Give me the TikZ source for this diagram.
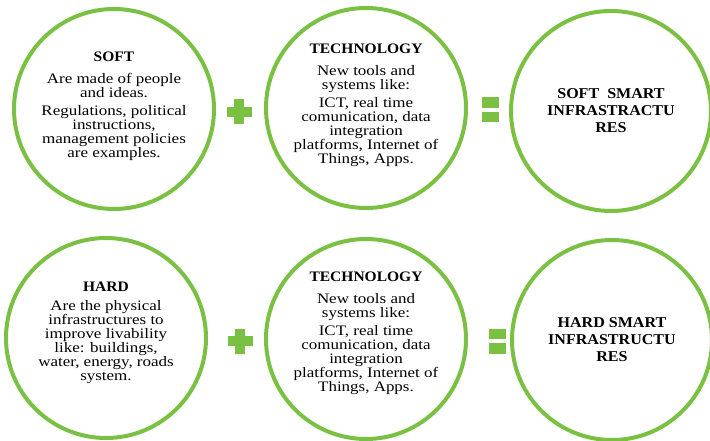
\documentclass[tikz,border=0pt]{standalone}
\usepackage{fontspec}
\setmainfont{Liberation Serif}[FakeStretch=1.07]
\newfontfamily\bodyfont{Liberation Serif}[FakeStretch=1.17]
\usepackage{tikz}
\definecolor{ringgreen}{RGB}{122,193,67}
\tikzset{
  ring/.style={circle, draw=ringgreen, line width=4pt, minimum size=200pt, inner sep=0pt},
  txt/.style={align=center, font=\bodyfont\fontsize{14.5}{14}\selectfont},
  res/.style={align=center, font=\fontsize{15}{17}\selectfont\bfseries},
  plussign/.pic={
    \fill[ringgreen] (-12.5,-5) rectangle (12.5,5);
    \fill[ringgreen] (-5,-12.5) rectangle (5,12.5);
  },
  equalsign/.pic={
    \fill[ringgreen] (-8.5,-12.5) rectangle (8.5,-2);
    \fill[ringgreen] (-8.5,2) rectangle (8.5,12.5);
  }
}
\newcommand{\ttl}[1]{{\rmfamily\bfseries #1}}

\begin{document}
\begin{tikzpicture}[x=1pt, y=-1pt]
\useasboundingbox (0,0) rectangle (710,441);
% top row
\node[ring] (soft) at (114,109) {};
\node[ring] (techA) at (366,108) {};
\node[ring] (softsmart) at (611,111) {};
\node[txt] (softtxt) at ([yshift=3pt]soft.center) {\ttl{SOFT}\\[8pt]
  Are made of people\\and ideas.\\[4pt]
  Regulations, political\\instructions,\\management policies\\are examples.};
\node[txt] (techAtxt) at ([yshift=3pt]techA.center) {\ttl{TECHNOLOGY}\\[8pt]
  New tools and\\systems like:\\[4pt]
  ICT, real time\\comunication, data\\integration\\platforms, Internet of\\Things, Apps.};
\node[res] (softsmarttxt) at (softsmart.center) {SOFT\ \ SMART\\INFRASTRACTU\\RES};
\pic at (239,112) {plussign};
\pic at (490,110) {equalsign};
% bottom row
\node[ring] (hard) at (106,338) {};
\node[ring] (techB) at (366,339) {};
\node[ring] (hardsmart) at (612,340) {};
\node[txt] (hardtxt) at ([yshift=5pt]hard.center) {\ttl{HARD}\\[5pt]
  Are the physical\\infrastructures to\\improve livability\\like: buildings,\\water, energy, roads\\system.};
\node[txt] (techBtxt) at ([yshift=6pt]techB.center) {\ttl{TECHNOLOGY}\\[8pt]
  New tools and\\systems like:\\[4pt]
  ICT, real time\\comunication, data\\integration\\platforms, Internet of\\Things, Apps.};
\node[res] (hardsmarttxt) at (hardsmart.center) {HARD SMART\\INFRASTRUCTU\\RES};
\pic at (240,341) {plussign};
\pic at (497,341) {equalsign};
\end{tikzpicture}
\end{document}
